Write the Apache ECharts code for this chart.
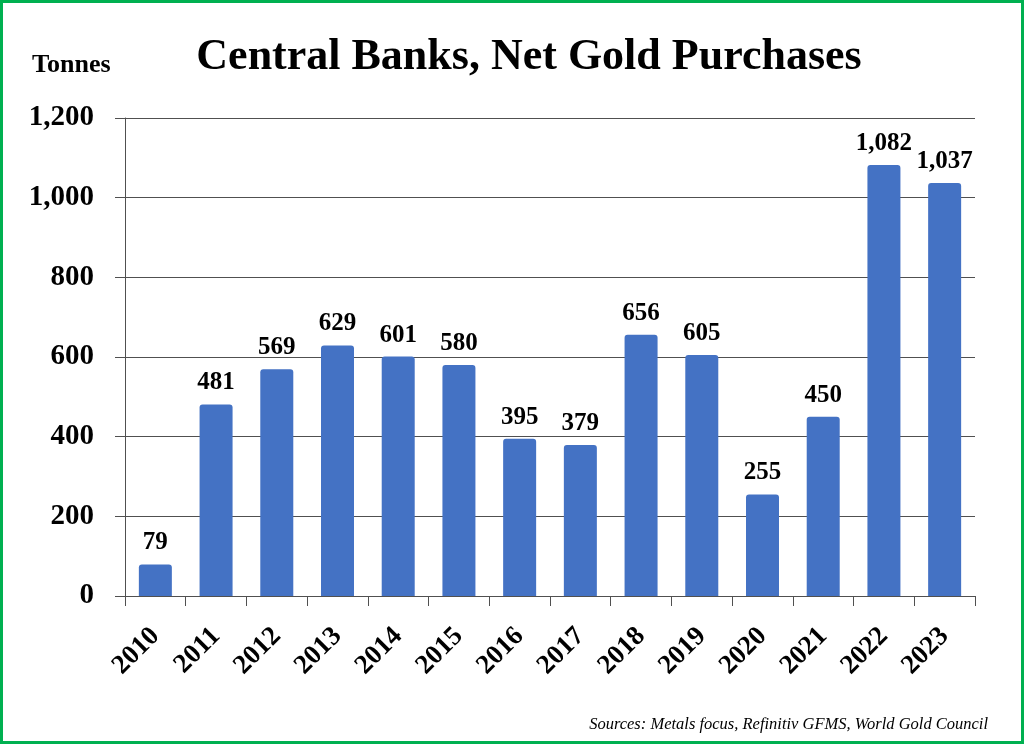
<!DOCTYPE html>
<html><head><meta charset="utf-8">
<script src="https://cdn.jsdelivr.net/npm/echarts@6/dist/echarts.min.js"></script>
<style>
html,body{margin:0;padding:0;background:#fff;}
#frame{position:absolute;left:0;top:0;width:1024px;height:744px;box-sizing:border-box;border:3px solid #00B050;}
#chart{position:absolute;left:0;top:0;width:1024px;height:744px;}
</style></head>
<body>
<div id="chart"></div>
<div id="frame"></div>
<script>
const years = ['2010','2011','2012','2013','2014','2015','2016','2017','2018','2019','2020','2021','2022','2023'];
const tonnes = [79,481,569,629,601,580,395,379,656,605,255,450,1082,1037];
const titleText = 'Central Banks, Net Gold Purchases';
const unitText = 'Tonnes';
const sourceText = 'Sources: Metals focus, Refinitiv GFMS, World Gold Council';
const serif = '"Liberation Serif", "Times New Roman", serif';

const chart = echarts.init(document.getElementById('chart'));
const fmt = v => v.toLocaleString('en-US');
chart.setOption({
  animation:false,
  backgroundColor:'#fff',
  textStyle:{fontFamily:serif},
  title:[
    {text:titleText,left:524,top:31,textAlign:'center',textStyle:{fontFamily:serif,fontWeight:'bold',fontSize:44,color:'#000'}},
    {text:unitText,left:27,top:47,textStyle:{fontFamily:serif,fontWeight:'bold',fontSize:26,color:'#000'}},
    {text:sourceText,right:31,top:711,textStyle:{fontFamily:serif,fontStyle:'italic',fontWeight:'normal',fontSize:16.5,color:'#000'}}
  ],
  grid:{left:125,right:49,top:118,bottom:148},
  xAxis:{type:'category',data:years,boundaryGap:true,
    axisLine:{show:true,lineStyle:{color:'#505050',width:1}},
    axisTick:{show:true,alignWithLabel:false,length:10,lineStyle:{color:'#505050'}},
    axisLabel:{rotate:45,margin:36,fontFamily:serif,fontWeight:'bold',fontSize:27,color:'#000',interval:0}},
  yAxis:{type:'value',min:0,max:1200,interval:200,
    axisLine:{show:true,lineStyle:{color:'#505050',width:1}},
    axisTick:{show:true,length:10,lineStyle:{color:'#505050'}},
    splitLine:{show:true,lineStyle:{color:'#505050',width:1}},
    axisLabel:{margin:31,fontFamily:serif,fontWeight:'bold',fontSize:29,color:'#000',formatter:v=>fmt(v)}},
  series:[{type:'bar',data:tonnes,barWidth:33,
    itemStyle:{color:'#4472C4',borderRadius:[3,3,0,0]},
    label:{show:true,position:'top',distance:9,fontFamily:serif,fontWeight:'bold',fontSize:25,color:'#000',formatter:p=>fmt(p.value)}}]
});
</script>
</body></html>
